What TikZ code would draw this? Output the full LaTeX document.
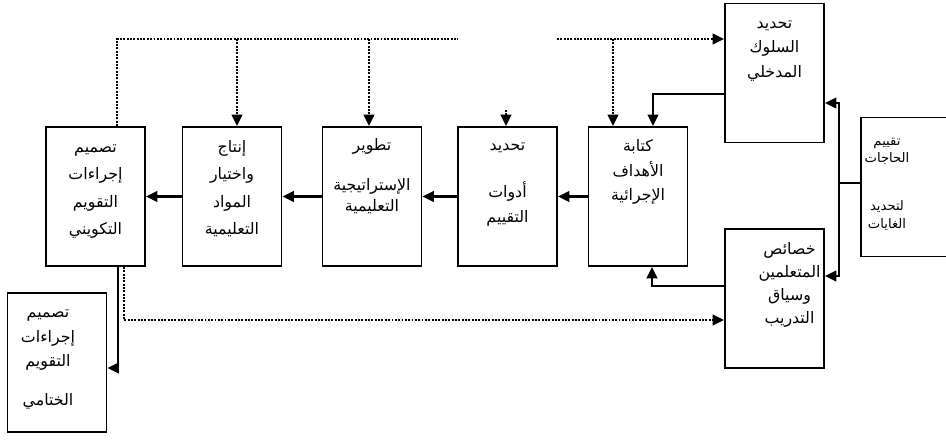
\documentclass[tikz,border=0pt]{standalone}
\usepackage{fontspec}
\newfontfamily\arabicfont[Script=Arabic]{DejaVu Sans}
\TeXXeTstate=1
\usetikzlibrary{arrows.meta}
\tikzset{>={Triangle[length=6.5pt,width=6pt]}}
\tikzset{
  stage/.style={draw, line width=1.1pt, inner sep=0pt, font=\arabicfont\fontsize{9}{14}\selectfont},
  flow/.style={line width=1.2pt},
  dotline/.style={line width=1.3pt, dash pattern=on 1.1pt off 0.8pt}
}
\newcommand{\rl}[1]{\beginR#1\endR}
% box body: top gap, sideways shift (twice the offset), rows
\newcommand{\stagetext}[3]{%
  \parbox[t][2.78cm][t]{1.98cm}{\vspace*{#1}\centering\hspace*{#2}%
    \begin{tabular}{@{}c@{}}#3\end{tabular}\par}}

\begin{document}
\begin{tikzpicture}[x=0.2mm, y=-0.2mm]
    \useasboundingbox (0,0) rectangle (946,444);
    % stages
    \node[stage] (design) at (95.5,196.5) {\stagetext{0.17cm}{0pt}{\rl{تصميم}\\[1.5pt] \rl{إجراءات}\\[1.5pt] \rl{التقويم}\\[1.5pt] \rl{التكويني}}};
    \node[stage] (materials) at (232,196.5) {\stagetext{0.17cm}{0pt}{\rl{إنتاج}\\[1.5pt] \rl{واختيار}\\[1.5pt] \rl{المواد}\\[1.5pt] \rl{التعليمية}}};
    \node[stage] (strategy) at (372,196.5) {\stagetext{0.12cm}{0pt}{\rl{تطوير}\\[9pt] \rl{الإستراتيجية}\\[-2pt] \rl{التعليمية}}};
    \node[stage] (tools) at (507.5,196.5) {\stagetext{0.12cm}{0pt}{\rl{تحديد}\\[13pt] \rl{أدوات}\\ \rl{التقييم}}};
    \node[stage] (objectives) at (638,196.5) {\stagetext{0.15cm}{0pt}{\rl{كتابة}\\ \rl{الأهداف}\\ \rl{الإجرائية}}};
    \node[stage] (entry) at (774.5,73) {\stagetext{0.15cm}{0pt}{\rl{تحديد}\\ \rl{السلوك}\\ \rl{المدخلي}}};
    \node[stage, font=\arabicfont\fontsize{7.5}{10.2}\selectfont] (needs) at (910.5,187) {\stagetext{0.3cm}{-0.94cm}{\rl{تقييم}\\ \rl{الحاجات}\\[17pt] \rl{لتحديد}\\ \rl{الغايات}}};
    \node[stage] (learners) at (774.5,298.5) {\stagetext{0.17cm}{0.6cm}{\rl{خصائص}\\[-1pt] \rl{المتعلمين}\\[-1pt] \rl{وسياق}\\[-1pt] \rl{التدريب}}};
    \node[stage] (summative) at (57,362.5) {\stagetext{0.15cm}{-0.36cm}{\rl{تصميم}\\ \rl{إجراءات}\\ \rl{التقويم}\\[8pt] \rl{الختامي}}};
    % corners of the connectors
    \coordinate (topL) at (117,39);
    \coordinate (topM) at (458,39);
    \coordinate (topR) at (557,39);
    \coordinate (toolsIn) at (506,110);
    \coordinate (lowL) at (124,320);
    \coordinate (finL) at (118,368);
    \coordinate (entryK) at (653,94);
    \coordinate (learnK) at (652,286);
    \coordinate (needsK) at (839,183);
    \coordinate (needsUp) at (839,103);
    \coordinate (needsDn) at (839,276);
    % main chain
    \foreach \a/\b in {materials/design, strategy/materials, tools/strategy, objectives/tools}
        \draw[flow,->] (\a.west) -- (\b.east);
    % dotted feedback
    \draw[dotline] (topL |- design.north) -- (topL) -- (topM);
    \foreach \x/\b in {237/materials, 369/strategy, 613/objectives}
        \draw[dotline,->] (\x,39) -- (\x,39 |- \b.north);
    \draw[dotline,->] (toolsIn) -- (toolsIn |- tools.north);
    \draw[dotline,->] (topR) -- (topR -| entry.west);
    \draw[dotline,->] (lowL |- design.south) -- (lowL) -- (lowL -| learners.west);
    % solid links
    \draw[flow,->] (finL |- design.south) -- (finL) -- (finL -| summative.east);
    \draw[flow,->] (entry.west |- entryK) -- (entryK) -- (entryK |- objectives.north);
    \draw[flow,->] (learners.west |- learnK) -- (learnK) -- (learnK |- objectives.south);
    \draw[flow] (needs.west |- needsK) -- (needsK);
    \draw[flow,->] (needsK) -- (needsUp) -- (needsUp -| entry.east);
    \draw[flow,->] (needsK) -- (needsDn) -- (needsDn -| learners.east);
\end{tikzpicture}
\end{document}
